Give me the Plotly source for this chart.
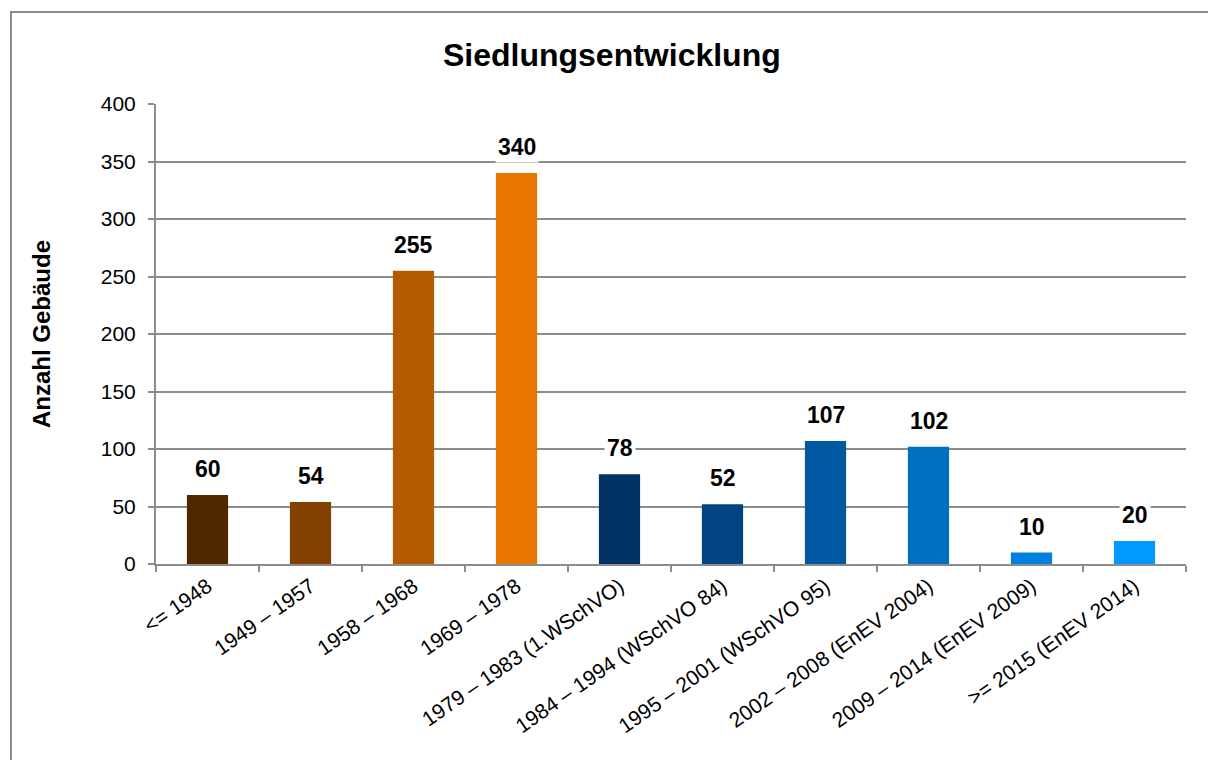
import plotly.graph_objects as go

categories = ["<= 1948", "1949 – 1957", "1958 – 1968", "1969 – 1978",
              "1979 – 1983 (1.WSchVO)", "1984 – 1994 (WSchVO 84)",
              "1995 – 2001 (WSchVO 95)", "2002 – 2008 (EnEV 2004)",
              "2009 – 2014 (EnEV 2009)", ">= 2015 (EnEV 2014)"]
values = [60, 54, 255, 340, 78, 52, 107, 102, 10, 20]
colors = ["#4F2800", "#824100", "#B45B00", "#E87600", "#003364",
          "#004582", "#0059A0", "#006FBF", "#0080DF", "#0099FF"]
y_ticks = [0, 50, 100, 150, 200, 250, 300, 350, 400]

GRID = "#8C8C8C"
FONT = "Liberation Sans, Arial, sans-serif"

fig = go.Figure(go.Bar(x=categories, y=values, marker=dict(color=colors, line=dict(width=0)),
                       width=0.4, hoverinfo="x+y"))

for c, v in zip(categories, values):
    fig.add_annotation(x=c, y=v, text=f"<b>{v}</b>", showarrow=False, yshift=26,
                       bgcolor="white", borderpad=2,
                       font=dict(family=FONT, size=23, color="black"))

fig.add_shape(type="rect", xref="paper", yref="paper", x0=-0.1408, x1=1.03, y0=-0.45, y1=1.2,
              line=dict(color=GRID, width=2), layer="below")

fig.update_layout(
    width=1208, height=760,
    margin=dict(l=156, r=22, t=104, b=196),
    paper_bgcolor="white", plot_bgcolor="white",
    showlegend=False,
    font=dict(family=FONT, color="black"),
    title=dict(text="<b>Siedlungsentwicklung</b>", x=0.5065, xanchor="center",
               y=0.928, yanchor="middle", font=dict(family=FONT, size=32, color="black")),
    bargap=0.6,
)
fig.update_xaxes(type="category", showline=True, linecolor=GRID, linewidth=2,
                 ticks="outside", ticklen=6, tickcolor=GRID, tickwidth=2,
                 tickson="boundaries", showgrid=False, tickangle=-35,
                 tickfont=dict(family=FONT, size=21, color="black"))
fig.update_yaxes(range=[0, 400], tickvals=y_ticks, showline=True, linecolor=GRID, linewidth=2,
                 ticks="outside", ticklen=6, tickcolor=GRID, tickwidth=2,
                 ticklabelstandoff=8,
                 showgrid=True, gridcolor=GRID, gridwidth=2, zeroline=False,
                 tickfont=dict(family=FONT, size=21, color="black"),
                 title=dict(text="<b>Anzahl Gebäude</b>", standoff=43,
                            font=dict(family=FONT, size=24, color="black")))

fig.write_html("out.html", config={"displayModeBar": False},
               post_script="document.body.style.margin='0';")
